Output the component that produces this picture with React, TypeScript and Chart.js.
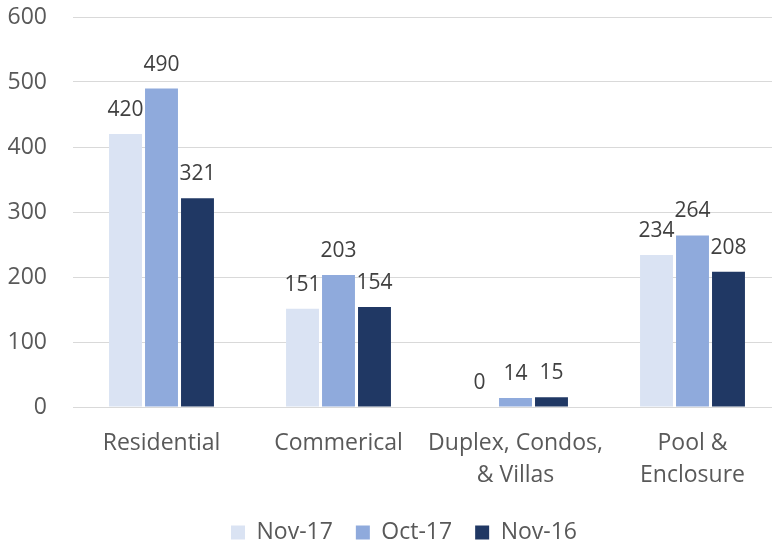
import React, { useEffect, useRef } from "react";
import { Chart, registerables } from "chart.js";

Chart.register(...registerables);

const categories: (string | string[])[] = [
  "Residential",
  "Commerical",
  ["Duplex, Condos,", "& Villas"],
  ["Pool &", "Enclosure"],
];
const seriesNames = ["Nov-17", "Oct-17", "Nov-16"];
const nov17 = [420, 151, 0, 234];
const oct17 = [490, 203, 14, 264];
const nov16 = [321, 154, 15, 208];
const seriesColors = ["#DAE3F3", "#8FAADC", "#203864"];
const yTicks = [0, 100, 200, 300, 400, 500, 600];

const FONT = '"Open Sans", "Noto Sans", sans-serif';

const valueLabels = {
  id: "valueLabels",
  afterDatasetsDraw(chart: any) {
    const ctx = chart.ctx;
    ctx.save();
    ctx.font = `21px ${FONT}`;
    ctx.fillStyle = "#404040";
    ctx.textAlign = "center";
    ctx.textBaseline = "alphabetic";
    chart.data.datasets.forEach((ds: any, i: number) => {
      const meta = chart.getDatasetMeta(i);
      meta.data.forEach((bar: any, j: number) => {
        ctx.fillText(String(ds.data[j]), bar.x, bar.y - 18);
      });
    });
    ctx.restore();
  },
};

export default function App() {
  const ref = useRef<HTMLCanvasElement>(null);
  useEffect(() => {
    if (!ref.current) return;
    const data = [nov17, oct17, nov16];
    const chart = new Chart(ref.current, {
      type: "bar",
      data: {
        labels: categories,
        datasets: seriesNames.map((name, i) => ({
          label: name,
          data: data[i],
          backgroundColor: seriesColors[i],
          borderWidth: 0,
          categoryPercentage: 0.61,
          barPercentage: 0.915,
        })),
      },
      options: {
        responsive: false,
        animation: false,
        devicePixelRatio: 1,
        layout: { padding: { top: 17, right: 0, left: 0, bottom: 0 } },
        plugins: {
          tooltip: { enabled: false },
          legend: {
            position: "bottom",
            labels: {
              boxWidth: 14,
              boxHeight: 14,
              padding: 23,
              color: "#595959",
              font: { family: FONT, size: 23 },
            },
          },
        },
        scales: {
          x: {
            grid: { display: false },
            border: { display: false },
            ticks: {
              color: "#595959",
              font: { family: FONT, size: 23, lineHeight: 1.4 },
              padding: 12,
              maxRotation: 0,
              autoSkip: false,
            },
            afterFit(scale: any) {
              scale.height = 91;
              scale.paddingLeft = 0;
              scale.paddingRight = 27;
            },
          },
          y: {
            min: 0,
            max: 600,
            afterBuildTicks(scale: any) {
              scale.ticks = yTicks.map((v) => ({ value: v }));
            },
            grid: { color: "#D9D9D9", lineWidth: 1, drawTicks: false },
            border: { display: false },
            ticks: {
              color: "#595959",
              font: { family: FONT, size: 23 },
              padding: 26,
            },
            afterFit(scale: any) {
              scale.width = 73;
              scale.paddingTop = 0;
              scale.paddingBottom = 0;
            },
          },
        },
      },
      plugins: [valueLabels],
    });
    return () => chart.destroy();
  }, []);
  return (
    <div
      style={{
        position: "fixed",
        left: 0,
        top: 0,
        width: 772,
        height: 544,
        overflow: "hidden",
        background: "#fff",
      }}
    >
      <canvas ref={ref} width={808} height={554} style={{ width: 808, height: 554, display: "block" }} />
    </div>
  );
}
